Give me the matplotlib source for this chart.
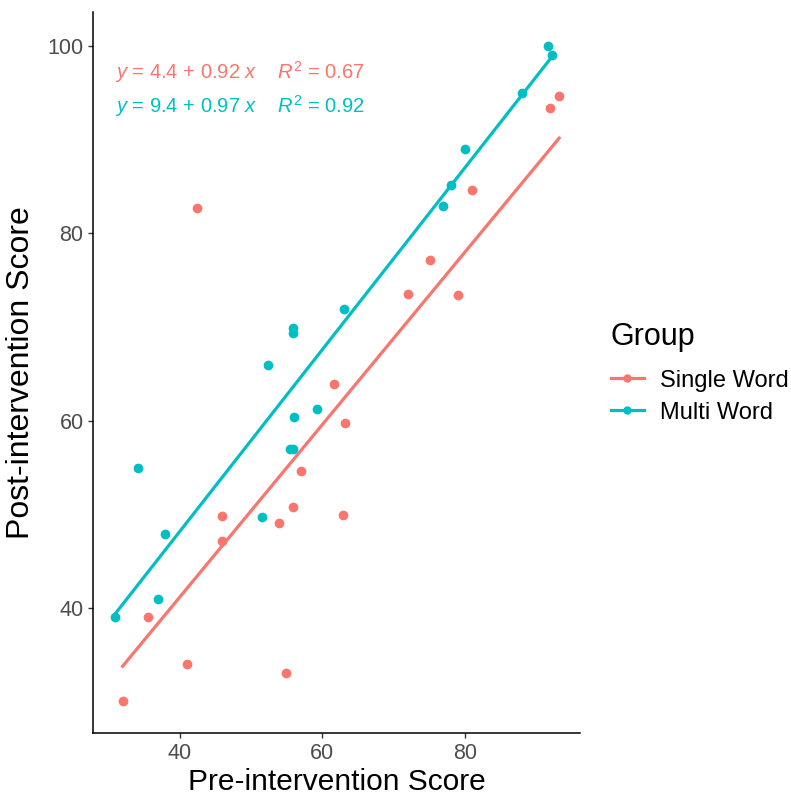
import numpy as np
import matplotlib
matplotlib.use("Agg")
import matplotlib.pyplot as plt
from matplotlib.lines import Line2D

plt.rcParams['font.family'] = ['Liberation Sans', 'DejaVu Sans']
plt.rcParams['mathtext.fontset'] = 'custom'
plt.rcParams['mathtext.rm'] = 'Liberation Sans'
plt.rcParams['mathtext.it'] = 'Liberation Sans:italic'

# Pre / post scores per group
single_pre = [32.0, 35.5, 41.0, 42.4, 45.9, 45.9, 53.9, 54.9, 55.9, 57.0,
              61.6, 63.2, 62.9, 72.0, 75.1, 79.0, 81.0, 91.9, 93.2]
single_post = [30.1, 39.1, 34.1, 82.7, 49.9, 47.2, 49.1, 33.1, 50.8, 54.7,
               63.9, 59.8, 50.0, 73.5, 77.2, 73.4, 84.6, 93.4, 94.6]
multi_pre = [31.0, 34.2, 36.9, 38.0, 51.6, 52.4, 55.5, 55.9, 56.1, 55.9,
             55.9, 59.2, 63.0, 76.9, 78.0, 80.0, 88.0, 91.6, 92.2]
multi_post = [39.1, 55.0, 41.0, 47.9, 49.8, 66.0, 57.0, 57.0, 60.4, 69.9,
              69.4, 61.3, 71.9, 82.9, 85.2, 89.0, 95.0, 100.0, 99.0]

# Fitted lines: intercept, slope, R^2
single_fit = (4.4, 0.92, 0.67)
multi_fit = (9.4, 0.97, 0.92)

groups = ['Single Word', 'Multi Word']
colors = ['#F8766D', '#00BFC4']

fig = plt.figure(figsize=(7.91, 7.97), dpi=100)
ax = fig.add_axes([0.118, 0.080, 0.615, 0.905])

series = [(single_pre, single_post, single_fit), (multi_pre, multi_post, multi_fit)]
for (xs, ys, fit), col in zip(series, colors):
    ax.plot(xs, ys, 'o', color=col, markersize=7, markeredgewidth=0, zorder=3)
    a, b, _ = fit
    xx = np.array([min(xs), max(xs)])
    ax.plot(xx, a + b * xx, color=col, linewidth=2.3, zorder=2)

# Regression equations
for i, (fit, col) in enumerate(zip([single_fit, multi_fit], colors)):
    a, b, r2 = fit
    label = (r'$\it{y}$' + f' = {a:.1f} + {b:.2f} ' + r'$\it{x}$' +
             r'    $\it{R}^2$' + f' = {r2:.2f}')
    ax.text(0.044, 0.916 - i * 0.047, label, transform=ax.transAxes,
            color=col, fontsize=14.5, ha='left', va='center')

ax.set_xlim(27.9, 96.1)
ax.set_ylim(26.7, 103.6)
ax.set_xticks([40, 60, 80])
ax.set_yticks([40, 60, 80, 100])
ax.tick_params(axis='both', labelsize=15.5, labelcolor='#4D4D4D',
               color='#333333', length=3.5, width=1)
for side in ['top', 'right']:
    ax.spines[side].set_visible(False)
for side in ['left', 'bottom']:
    ax.spines[side].set_linewidth(1.1)

ax.set_xlabel('Pre-intervention Score', fontsize=21.5, labelpad=3)
ax.set_ylabel('Post-intervention Score', fontsize=23, labelpad=8)

handles = [Line2D([0], [0], color=c, marker='o', markersize=6, linewidth=2.3,
                  markeredgewidth=0) for c in colors]
leg = ax.legend(handles, groups, title='Group', loc='center left',
                bbox_to_anchor=(1.02, 0.50), frameon=False, fontsize=17,
                title_fontsize=22, handlelength=1.4, handletextpad=0.7,
                labelspacing=0.42)
leg._legend_box.align = 'left'
leg._legend_box.sep = 13

fig.savefig('out.png', dpi=100)
